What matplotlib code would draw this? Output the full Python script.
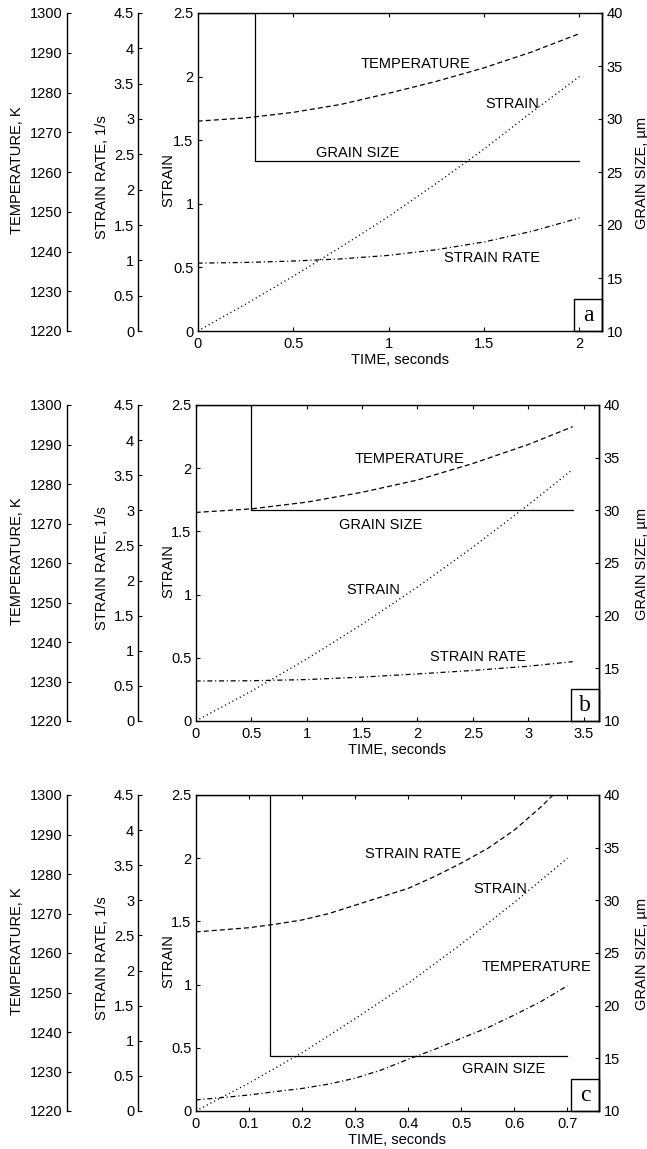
import matplotlib
matplotlib.use('Agg')
import matplotlib.pyplot as plt
from matplotlib.ticker import FuncFormatter, MultipleLocator
from matplotlib.patches import Rectangle

# ---------------- data ----------------
# Panel a
TIME_A = [0, 0.25, 0.5, 0.75, 1.0, 1.25, 1.5, 1.75, 2.0]
STRAIN_A = [0, 0.21, 0.43, 0.66, 0.90, 1.16, 1.43, 1.72, 2.0]
TEMP_A = [1272.8, 1273.6, 1275.0, 1277.0, 1279.8, 1282.8, 1286.2, 1290.2, 1294.8]
RATE_A = [0.96, 0.97, 0.99, 1.02, 1.07, 1.15, 1.26, 1.41, 1.60]
GS_TIME_A = [0, 0.3, 0.3, 2.0]
GS_A = [40, 40, 26, 26]

# Panel b
TIME_B = [0, 0.5, 1.0, 1.5, 2.0, 2.5, 3.0, 3.4]
STRAIN_B = [0, 0.235, 0.49, 0.765, 1.06, 1.375, 1.71, 1.99]
TEMP_B = [1272.8, 1273.7, 1275.4, 1277.9, 1281.0, 1285.2, 1290.0, 1294.5]
RATE_B = [0.57, 0.573, 0.59, 0.625, 0.67, 0.72, 0.78, 0.845]
GS_TIME_B = [0, 0.5, 0.5, 3.4]
GS_B = [40, 40, 30, 30]

# Panel c
TIME_C = [0, 0.1, 0.2, 0.3, 0.4, 0.5, 0.6, 0.7]
STRAIN_C = [0, 0.22, 0.46, 0.73, 1.01, 1.32, 1.65, 2.0]
TIME_C_FINE = [0, 0.05, 0.1, 0.15, 0.2, 0.25, 0.3, 0.35, 0.4, 0.45, 0.5, 0.55, 0.6, 0.65, 0.7]
TEMP_C = [1222.8, 1223.4, 1224.05, 1224.9, 1225.7, 1226.8, 1228.3, 1230.4, 1233.1,
          1235.6, 1238.4, 1241.1, 1244.3, 1247.7, 1251.7]
RATE_C = [2.55, 2.58, 2.61, 2.66, 2.72, 2.81, 2.93, 3.05, 3.17, 3.34, 3.53, 3.74, 4.00,
          4.33, 4.70]
GS_TIME_C = [0, 0.14, 0.14, 0.7]
GS_C = [40, 40, 15.2, 15.2]

PANEL_LETTERS = ['a', 'b', 'c']
X_MAX = [2.12, 3.64, 0.76]
X_STEP = [0.5, 0.5, 0.1]

TEMP_TICKS = list(range(1220, 1301, 10))
RATE_TICKS = [0, 0.5, 1, 1.5, 2, 2.5, 3, 3.5, 4, 4.5]
STRAIN_TICKS = [0, 0.5, 1, 1.5, 2, 2.5]
GS_TICKS = [10, 15, 20, 25, 30, 35, 40]

# label texts and positions (time, strain-axis units)
LABELS = [
    [("TEMPERATURE", 1.14, 2.10), ("STRAIN", 1.65, 1.785),
     ("GRAIN SIZE", 0.84, 1.40), ("STRAIN RATE", 1.54, 0.57)],
    [("TEMPERATURE", 1.93, 2.07), ("GRAIN SIZE", 1.67, 1.55),
     ("STRAIN", 1.60, 1.04), ("STRAIN RATE", 2.55, 0.51)],
    [("STRAIN RATE", 0.41, 2.03), ("STRAIN", 0.573, 1.76),
     ("TEMPERATURE", 0.642, 1.14), ("GRAIN SIZE", 0.58, 0.33)],
]

# ---------------- style ----------------
plt.rcParams['font.family'] = ['Liberation Sans', 'DejaVu Sans']
plt.rcParams['font.size'] = 10.5
plt.rcParams['lines.scale_dashes'] = False

W, H = 647, 1149
fig = plt.figure(figsize=(W / 100, H / 100), dpi=100)
fmt = FuncFormatter(lambda v, p: f'{v:g}')

BOXES = [(197.7, 13, 602.3, 331), (195.7, 405, 599.3, 721), (195.7, 795, 599.3, 1111)]
TEMP_SPINE_PX = 66.7
RATE_SPINE_PX = 138.3
TEMP_LABEL_PX = 17.5
RATE_LABEL_PX = 101.7
STRAIN_LABEL_PX = 168.3
GS_LABEL_PX = 641.7

DASHED = (0, (3.6, 2.2))
DOTTED = (0, (0.8, 2.2))
DASHDOT = (0, (3.6, 2.0, 0.8, 2.0))
LW = 0.9
SPW = 1.0

data = [
    (TIME_A, STRAIN_A, TIME_A, TEMP_A, RATE_A, GS_TIME_A, GS_A),
    (TIME_B, STRAIN_B, TIME_B, TEMP_B, RATE_B, GS_TIME_B, GS_B),
    (TIME_C, STRAIN_C, TIME_C_FINE, TEMP_C, RATE_C, GS_TIME_C, GS_C),
]
temp_styles = [DASHED, DASHED, DASHDOT]
rate_styles = [DASHDOT, DASHDOT, DASHED]

for i, (l, t, r, b) in enumerate(BOXES):
    wpx = r - l
    frac = lambda px: (px - l) / wpx
    ax = fig.add_axes([l / W, 1 - b / H, wpx / W, (b - t) / H])
    time, strain, time2, temp, rate, gst, gs = data[i]

    ax.set_xlim(0, X_MAX[i])
    ax.set_ylim(0, 2.5)
    ax.xaxis.set_major_locator(MultipleLocator(X_STEP[i]))
    ax.set_yticks(STRAIN_TICKS)
    ax.xaxis.set_major_formatter(fmt)
    ax.yaxis.set_major_formatter(fmt)
    ax.tick_params(axis='x', direction='in', top=True, bottom=True, length=3, width=0.8, pad=4)
    ax.tick_params(axis='y', direction='in', left=True, right=False, length=3, width=0.8, pad=3)
    for s in ax.spines.values():
        s.set_linewidth(SPW)
    ax.set_xlabel("TIME, seconds", labelpad=2)
    ax.text(frac(STRAIN_LABEL_PX), 0.475, "STRAIN", rotation=90, ha='center', va='center',
            transform=ax.transAxes)

    # grain size axis (right)
    ax_gs = ax.twinx()
    ax_gs.set_ylim(10, 40)
    ax_gs.set_yticks(GS_TICKS)
    ax_gs.yaxis.set_major_formatter(fmt)
    ax_gs.tick_params(axis='y', direction='in', length=3, width=0.8, pad=3)
    for k, s in ax_gs.spines.items():
        s.set_visible(k == 'right')
        s.set_linewidth(SPW)
    ax_gs.text(frac(GS_LABEL_PX), 0.497, "GRAIN SIZE, \u00b5m", rotation=90, ha='center',
               va='center', transform=ax.transAxes)

    # temperature axis (offset left)
    ax_t = ax.twinx()
    ax_t.set_ylim(1220, 1300)
    ax_t.set_yticks(TEMP_TICKS)
    ax_t.yaxis.set_major_formatter(fmt)
    for k, s in ax_t.spines.items():
        s.set_visible(k == 'left')
        s.set_linewidth(SPW)
    ax_t.spines['left'].set_position(('axes', frac(TEMP_SPINE_PX)))
    ax_t.yaxis.set_ticks_position('left')
    ax_t.tick_params(axis='y', direction='in', length=3, width=0.8, pad=3)
    ax.text(frac(TEMP_LABEL_PX), 0.506, "TEMPERATURE, K", rotation=90, ha='center',
            va='center', transform=ax.transAxes)

    # strain rate axis (offset left)
    ax_r = ax.twinx()
    ax_r.set_ylim(0, 4.5)
    ax_r.set_yticks(RATE_TICKS)
    ax_r.yaxis.set_major_formatter(fmt)
    for k, s in ax_r.spines.items():
        s.set_visible(k == 'left')
        s.set_linewidth(SPW)
    ax_r.spines['left'].set_position(('axes', frac(RATE_SPINE_PX)))
    ax_r.yaxis.set_ticks_position('left')
    ax_r.tick_params(axis='y', direction='in', length=3, width=0.8, pad=3)
    ax.text(frac(RATE_LABEL_PX), 0.484, "STRAIN RATE, 1/s", rotation=90, ha='center',
            va='center', transform=ax.transAxes)

    # curves
    ax.plot(time, strain, color='black', lw=1.0, linestyle=DOTTED)
    ax_t.plot(time2, temp, color='black', lw=LW, linestyle=temp_styles[i])
    ax_r.plot(time2, rate, color='black', lw=LW, linestyle=rate_styles[i])
    ax_gs.plot(gst, gs, color='black', lw=LW, linestyle='-')

    for txt, x, y in LABELS[i]:
        ax.text(x, y, txt, ha='center', va='center')

    # panel letter box
    ax.add_patch(Rectangle((0.93, 0), 0.07, 0.1, transform=ax.transAxes, fill=False,
                           lw=1.0, ec='black', clip_on=False))
    ax.text(0.965, 0.048, PANEL_LETTERS[i], transform=ax.transAxes, ha='center', va='center',
            fontsize=17, family=['Liberation Serif', 'DejaVu Serif'])

fig.savefig('out.png', dpi=100, facecolor='white')
